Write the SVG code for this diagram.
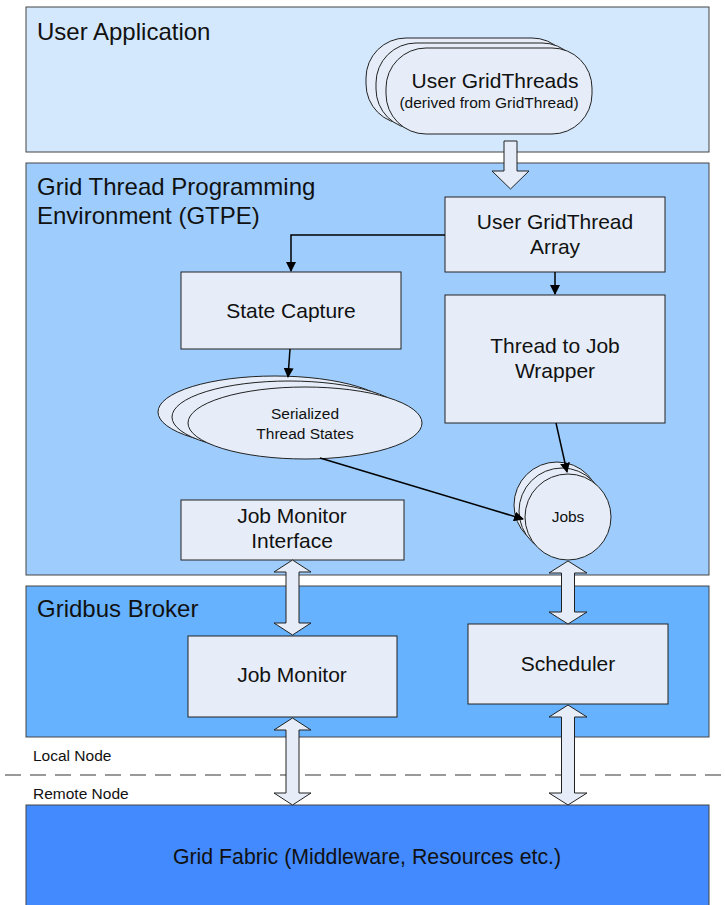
<svg xmlns="http://www.w3.org/2000/svg" width="725" height="905" viewBox="0 0 725 905">
<defs>
<style>
.panel{stroke:#444;stroke-width:1}
.node{fill:#e6edf8;stroke:#222;stroke-width:1}
.blk{fill:#e6edf8;stroke:#222;stroke-width:1}
.t{font-family:"Liberation Sans",Arial,sans-serif;fill:#111}
.title{font-size:24px}
.lbl{font-size:21px;text-anchor:middle}
.sm{font-size:15.5px;text-anchor:middle}
.conn{stroke:#000;stroke-width:1.5;fill:none}
</style>
<marker id="ah" markerWidth="10" markerHeight="10" refX="9" refY="5" orient="auto" markerUnits="userSpaceOnUse" viewBox="0 0 10 10">
<path d="M0,0 L10,5 L0,10 Z" fill="#000"/>
</marker>
</defs>
<rect width="725" height="905" fill="#fff"/>

<g id="user-application">
<rect class="panel" x="26" y="7" width="683" height="145" fill="#d4e8fd"/>
<text class="t title" x="37" y="40">User Application</text>
</g>
<g id="gtpe">
<rect class="panel" x="26" y="163" width="683" height="412" fill="#9ecdfd"/>
<text class="t title" x="37" y="195">Grid Thread Programming</text>
<text class="t title" x="37" y="224">Environment (GTPE)</text>
</g>
<g id="gridbus-broker">
<rect class="panel" x="26" y="586" width="683" height="151" fill="#66b2ff"/>
<text class="t title" x="37" y="617">Gridbus Broker</text>
</g>
<g id="node-divider">
<line x1="5" y1="775" x2="725" y2="775" stroke="#999" stroke-width="2" stroke-dasharray="16,9"/>
<text class="t" x="33" y="761" font-size="15.5">Local Node</text>
<text class="t" x="33" y="799" font-size="15.5">Remote Node</text>
</g>
<g id="grid-fabric">
<rect class="panel" x="26" y="805" width="683" height="105" fill="#428afd"/>
<text class="t" x="367" y="864" font-size="21.3" text-anchor="middle">Grid Fabric (Middleware, Resources etc.)</text>
</g>

<g id="user-gridthreads">
<rect class="node" x="366" y="38" width="206" height="86" rx="40"/>
<rect class="node" x="376" y="43" width="206" height="86" rx="40"/>
<rect class="node" x="386" y="48" width="206" height="86" rx="40"/>
<text class="t lbl" x="495" y="88">User GridThreads</text>
<text class="t sm" x="489" y="108">(derived from GridThread)</text>
</g>
<g id="user-gridthread-array">
<rect class="node" x="445" y="197" width="220" height="75"/>
<text class="t lbl" x="555" y="229">User GridThread</text>
<text class="t lbl" x="555" y="254">Array</text>
</g>
<g id="state-capture">
<rect class="node" x="181" y="272" width="220" height="77"/>
<text class="t lbl" x="291" y="318">State Capture</text>
</g>
<g id="thread-to-job-wrapper">
<rect class="node" x="445" y="295" width="220" height="128"/>
<text class="t lbl" x="555" y="353">Thread to Job</text>
<text class="t lbl" x="555" y="378">Wrapper</text>
</g>
<g id="serialized-thread-states">
<ellipse class="node" cx="275" cy="412" rx="117" ry="36"/>
<ellipse class="node" cx="289" cy="417" rx="117" ry="36"/>
<ellipse class="node" cx="305" cy="423" rx="117" ry="36"/>
<text class="t sm" x="305" y="419">Serialized</text>
<text class="t sm" x="305" y="439">Thread States</text>
</g>
<g id="jobs">
<circle class="node" cx="557" cy="505" r="43"/>
<circle class="node" cx="562" cy="511" r="43"/>
<circle class="node" cx="568" cy="517" r="43"/>
<text class="t sm" x="568" y="522">Jobs</text>
</g>
<g id="job-monitor-interface">
<rect class="node" x="181" y="500" width="223" height="60"/>
<text class="t lbl" x="292" y="523">Job Monitor</text>
<text class="t lbl" x="292" y="548">Interface</text>
</g>
<g id="job-monitor">
<rect class="node" x="188" y="636" width="209" height="81"/>
<text class="t lbl" x="292" y="682">Job Monitor</text>
</g>
<g id="scheduler">
<rect class="node" x="468" y="624" width="200" height="80"/>
<text class="t lbl" x="568" y="671">Scheduler</text>
</g>

<g id="connectors">
<path class="blk" d="M504,141 H517 V171 H529 L510.5,189 L492,171 H504 Z"/>
<path class="conn" d="M445,235 H291 V271" marker-end="url(#ah)"/>
<path class="conn" d="M555,272 V294" marker-end="url(#ah)"/>
<path class="conn" d="M290,349 L288,377" marker-end="url(#ah)"/>
<path class="conn" d="M556,423 L567,472" marker-end="url(#ah)"/>
<path class="conn" d="M320,458 L523,519" marker-end="url(#ah)"/>
<path class="blk" d="M292.5,560 L311,572 H299 V623 H311 L292.5,635 L274,623 H286 V572 H274 Z"/>
<path class="blk" d="M568,561 L587,573 H574.5 V612 H587 L568,624 L549,612 H561.5 V573 H549 Z"/>
<path class="blk" d="M292.5,718 L311,730 H299 V793 H311 L292.5,805 L274,793 H286 V730 H274 Z"/>
<path class="blk" d="M568,705 L587,717 H574.5 V793 H587 L568,805 L549,793 H561.5 V717 H549 Z"/>
</g>
</svg>
